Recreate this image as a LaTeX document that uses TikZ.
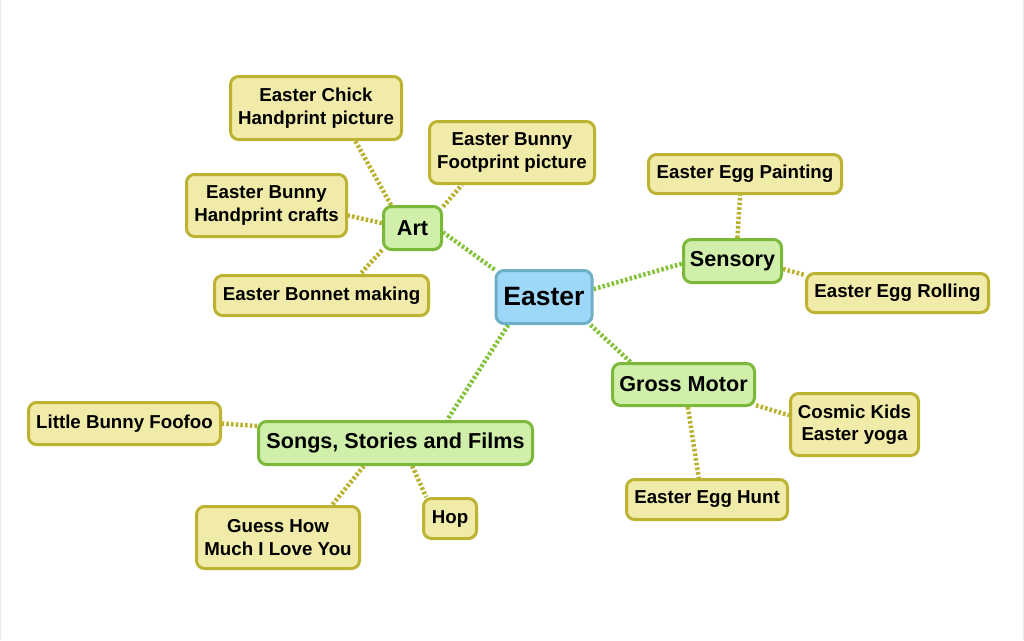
\documentclass[tikz,border=0pt]{standalone}
\usepackage{fontspec}
\setmainfont{Liberation Sans}
\usetikzlibrary{backgrounds}
\definecolor{leaffill}{HTML}{F0EBA9}
\definecolor{leafline}{HTML}{BDB332}
\definecolor{brfill}{HTML}{CFEFAA}
\definecolor{brline}{HTML}{7CB83A}
\definecolor{rootfill}{HTML}{9DD8F9}
\definecolor{rootline}{HTML}{6DB0C6}
\definecolor{greenlink}{HTML}{84C23A}
\definecolor{olivelink}{HTML}{BAB22E}
\tikzset{
  box/.style={rectangle, rounded corners=8pt, line width=3pt, inner sep=0pt, align=center, font=\bfseries},
  leaf/.style={box, draw=leafline, fill=leaffill, font=\bfseries\fontsize{18.7}{22.6}\selectfont},
  branch/.style={box, draw=brline, fill=brfill, font=\bfseries\fontsize{21.6}{25}\selectfont},
  root/.style={box, draw=rootline, fill=rootfill, font=\bfseries\fontsize{26.5}{30}\selectfont},
  link/.style={line width=4.5pt, dash pattern=on 2.6pt off 2.1pt},
  mainlink/.style={link, draw=greenlink},
  sublink/.style={link, draw=olivelink},
}
\begin{document}
\begin{tikzpicture}[x=1pt,y=-1pt]
\useasboundingbox (0,0) rectangle (1024,640);
\draw[black!8, line width=1pt] (0.5,0) -- (0.5,640) (1023.5,0) -- (1023.5,640);

\node[root, minimum width=96pt, minimum height=53pt] (easter) at (544,297) {Easter};

\node[branch, minimum width=58pt, minimum height=43pt] (art) at (412.5,228) {Art};
\node[branch, minimum width=98pt, minimum height=43pt] (sensory) at (732.5,261) {Sensory};
\node[branch, minimum width=142pt, minimum height=42pt] (gm) at (683.5,384.5) {Gross Motor};
\node[branch, minimum width=274pt, minimum height=43pt] (songs) at (395.5,443) {Songs, Stories and Films};

\node[leaf, minimum width=171pt, minimum height=63pt] (chick) at (316,108) {Easter Chick\\Handprint picture};
\node[leaf, minimum width=165pt, minimum height=62pt] (foot) at (512,152.5) {Easter Bunny\\Footprint picture};
\node[leaf, minimum width=160pt, minimum height=62pt] (hcraft) at (266.5,205.5) {Easter Bunny\\Handprint crafts};
\node[leaf, minimum width=214pt, minimum height=40pt] (bonnet) at (321.5,295.5) {Easter Bonnet making};

\node[leaf, minimum width=193pt, minimum height=39pt] (paint) at (745,174) {Easter Egg Painting};
\node[leaf, minimum width=182pt, minimum height=39pt] (roll) at (897.5,293) {Easter Egg Rolling};

\node[leaf, minimum width=128pt, minimum height=62pt] (cosmic) at (854.5,424.5) {Cosmic Kids\\Easter yoga};
\node[leaf, minimum width=161pt, minimum height=40pt] (hunt) at (707,499.5) {Easter Egg Hunt};

\node[leaf, minimum width=192pt, minimum height=42pt] (bunny) at (124.5,423.5) {Little Bunny Foofoo};
\node[leaf, minimum width=163pt, minimum height=62pt] (guess) at (278,537.5) {Guess How\\Much I Love You};
\node[leaf, minimum width=53pt, minimum height=40pt] (hop) at (450,518.5) {Hop};

\begin{scope}[on background layer]
\draw[mainlink] (easter.151.1) -- (art.-8.5);
\draw[mainlink] (easter.9.3) -- (sensory.183.3);
\draw[mainlink] (easter.-31.3) -- (gm.157.3);
\draw[mainlink] (easter.-142.1) -- (songs.24.9);

\draw[sublink] (art.133.2) -- (chick.-40.4);
\draw[sublink] (art.35.4) -- (foot.-147.2);
\draw[sublink] (art.171.3) -- (hcraft.-7.8);
\draw[sublink] (art.-144.6) -- (bonnet.29.5);

\draw[sublink] (sensory.78.9) -- (paint.-103.5);
\draw[sublink] (sensory.-9.9) -- (roll.169.8);

\draw[sublink] (gm.-16.4) -- (cosmic.172.8);
\draw[sublink] (gm.-79.2) -- (hunt.111.8);

\draw[sublink] (songs.173.8) -- (bunny.-0.9);
\draw[sublink] (songs.-144.7) -- (guess.31);
\draw[sublink] (songs.-54.3) -- (hop.138.1);
\end{scope}
\end{tikzpicture}
\end{document}
